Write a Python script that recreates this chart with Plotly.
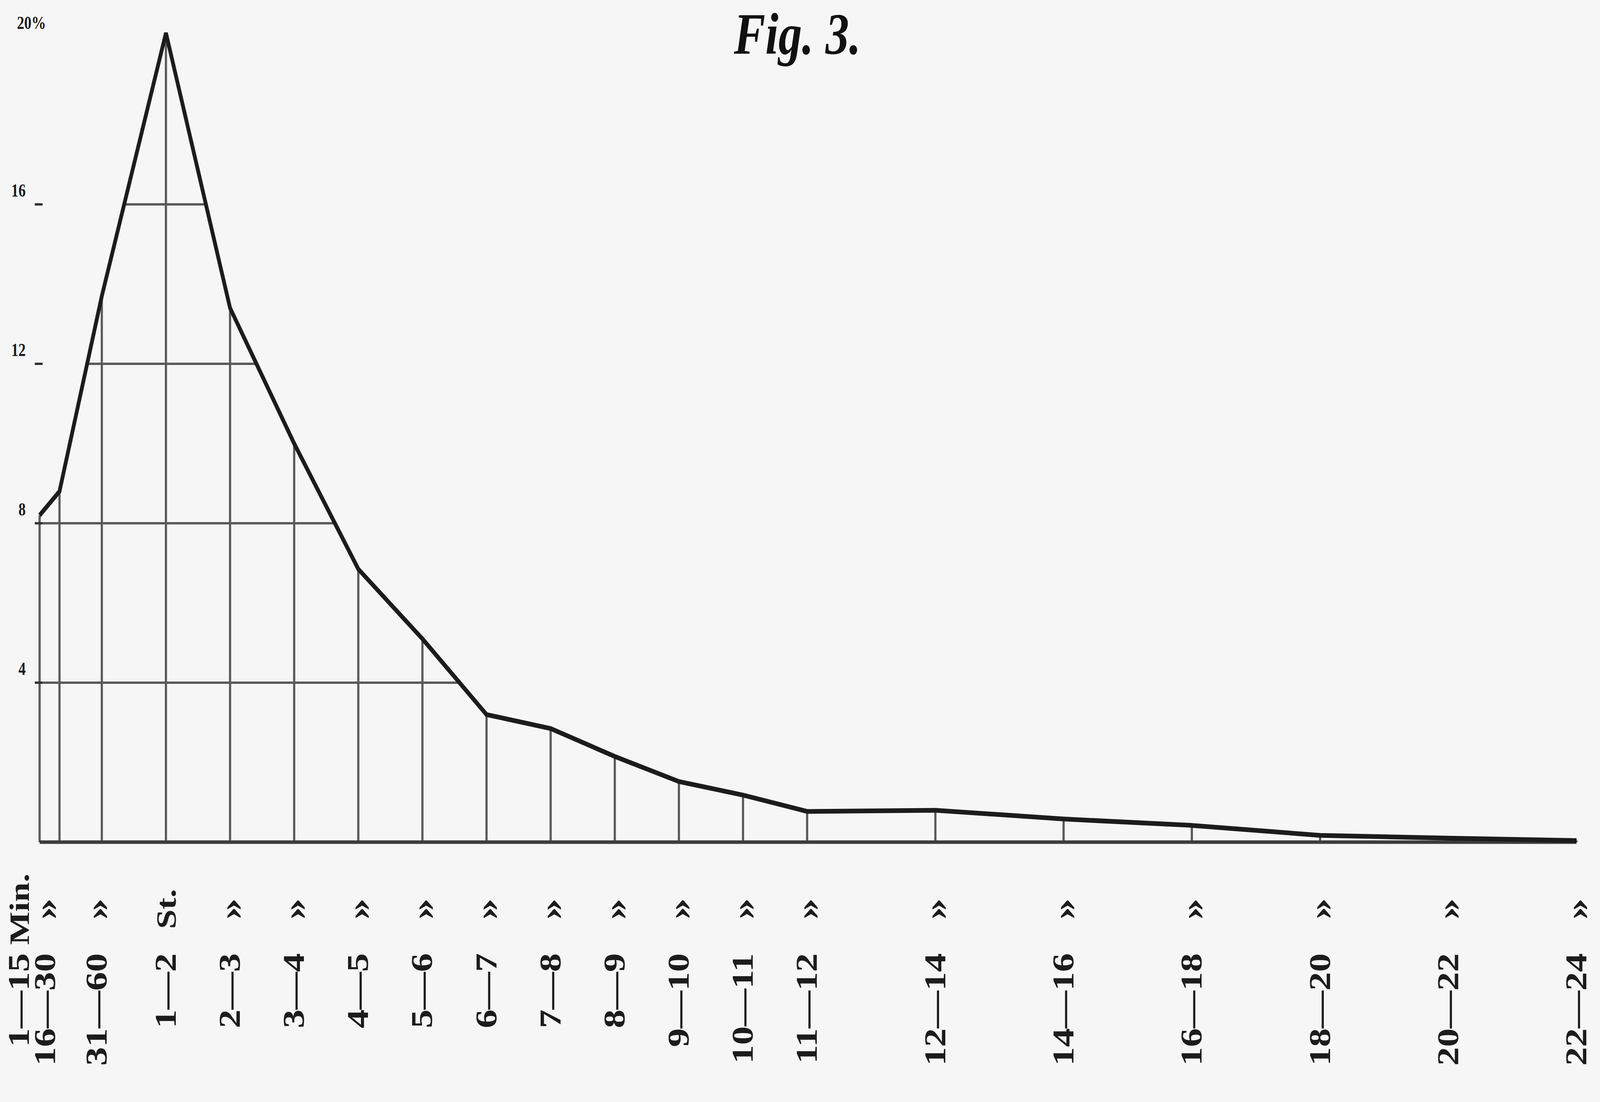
import plotly.graph_objects as go

# ---------------- data ----------------
# position of each class on the time axis (hours) and its share (%)
x_hours = [0.03, 0.34, 1, 2, 3, 4, 5, 6, 7, 8, 9, 10, 11, 12, 14, 16, 18, 20, 22, 24]
percent = [8.2, 8.8, 13.7, 20.3, 13.4, 10.0, 6.85, 5.1, 3.2, 2.85, 2.15, 1.52, 1.18,
           0.77, 0.80, 0.58, 0.42, 0.17, 0.10, 0.04]

# tick labels (number part and unit / ditto part)
label_hours = [-0.29, 0.12, 0.92, 2, 3, 4, 5, 6, 7, 8, 9, 10, 11, 12, 14, 16, 18, 20, 22, 24]
label_nums = ["1—15", "16—30", "31—60", "1—2", "2—3", "3—4", "4—5", "5—6", "6—7", "7—8",
              "8—9", "9—10", "10—11", "11—12", "12—14", "14—16", "16—18", "18—20",
              "20—22", "22—24"]
label_units = ["Min.", "»", "»", "St."] + ["»"] * 16

grid_levels = [4, 8, 12, 16]
y_tick_text = ["4", "8", "12", "16"]
top_label = "20%"
title_text = "<b><i>Fig. 3.</i></b>"

# ---------------- layout geometry (pixels) ----------------
W, H = 5093, 2820
X0_PX, PX_PER_H = 120.0, 204.1      # pixel of x=0 h, pixels per hour
Y0_PX, PX_PER_PCT = 2155.0, 102.0   # pixel of y=0 %, pixels per percent
ML, MR, MT, MB = 59, 24, 3, 640

x_lo = (ML - X0_PX) / PX_PER_H
x_hi = (W - MR - X0_PX) / PX_PER_H
y_lo = (Y0_PX - (H - MB)) / PX_PER_PCT
y_hi = (Y0_PX - MT) / PX_PER_PCT
plot_w = W - ML - MR
plot_h = H - MT - MB

def paper_x(px):
    return (px - ML) / plot_w

def paper_y(py):
    return (H - MB - py) / plot_h

SERIF = "Liberation Serif, DejaVu Serif, serif"
INK = "#1c1c1c"
GRID = "#5a5a5a"

fig = go.Figure()

# vertical lines under the curve
vx, vy = [], []
for xv, yv in zip(x_hours, percent):
    vx += [xv, xv, None]
    vy += [0, yv, None]
fig.add_trace(go.Scatter(x=vx, y=vy, mode="lines", line=dict(color=GRID, width=7),
                         hoverinfo="skip", showlegend=False, cliponaxis=False))

# horizontal lines under the curve
def level_span(xs, ys, lev):
    pts = []
    if ys[0] >= lev:
        pts.append(xs[0])
    for i in range(len(xs) - 1):
        y1, y2 = ys[i], ys[i + 1]
        if (y1 - lev) * (y2 - lev) < 0:
            t = (lev - y1) / (y2 - y1)
            pts.append(xs[i] + t * (xs[i + 1] - xs[i]))
    return min(pts), max(pts)

hx, hy = [], []
for lev in grid_levels:
    a, b = level_span(x_hours, percent, lev)
    hx += [a, b, None]
    hy += [lev, lev, None]
fig.add_trace(go.Scatter(x=hx, y=hy, mode="lines", line=dict(color=GRID, width=6),
                         hoverinfo="skip", showlegend=False, cliponaxis=False))

# base line
fig.add_trace(go.Scatter(x=[x_hours[0], x_hours[-1]], y=[0, 0], mode="lines",
                         line=dict(color="#3c3c3c", width=9),
                         hoverinfo="skip", showlegend=False, cliponaxis=False))

# the curve
fig.add_trace(go.Scatter(x=x_hours, y=percent, mode="lines",
                         line=dict(color=INK, width=12),
                         hoverinfo="skip", showlegend=False, cliponaxis=False))

# unit / ditto labels
annotations = []
for xv, u in zip(label_hours, label_units):
    annotations.append(dict(x=xv, xref="x", y=paper_y(2326), yref="paper",
                            text="<b>%s</b>" % u, textangle=-90, showarrow=False,
                            xanchor="center", yanchor="middle",
                            font=dict(family=SERIF, size=(110 if u == "»" else 90), color=INK)))
# 20 % label
annotations.append(dict(x=-0.1, xref="x", y=paper_y(58), yref="paper", text="<b>%s</b>" % top_label,
                        showarrow=False, xanchor="center", yanchor="middle",
                        font=dict(family=SERIF, size=46, color=INK)))
# title
annotations.append(dict(x=paper_x(2537), xref="paper", y=paper_y(172), yref="paper",
                        text=title_text, showarrow=False, xanchor="center", yanchor="bottom",
                        font=dict(family=SERIF, size=150, color="#111111")))

fig.update_layout(
    width=W, height=H, autosize=False,
    margin=dict(l=ML, r=MR, t=MT, b=MB, pad=0),
    paper_bgcolor="#f6f6f6", plot_bgcolor="#f6f6f6",
    showlegend=False,
    annotations=annotations,
    xaxis=dict(range=[x_lo, x_hi], showgrid=False, zeroline=False, showline=False,
               tickmode="array", tickvals=label_hours, ticktext=label_nums,
               tickangle=-90, ticks="", ticklabelstandoff=239,
               tickfont=dict(family=SERIF, size=96, color=INK, weight="bold")),
    yaxis=dict(range=[y_lo, y_hi], showgrid=False, zeroline=False, showline=False,
               anchor="free", position=paper_x(135),
               tickmode="array", tickvals=grid_levels, ticktext=y_tick_text,
               ticks="outside", ticklen=24, tickwidth=6, tickcolor="#333333",
               ticklabelshift=-36, ticklabelstandoff=20,
               tickfont=dict(family=SERIF, size=46, color=INK, weight="bold")),
)

# fit the fixed-size figure to whatever CSS viewport the browser window provides
fit_js = """
document.documentElement.style.margin='0';
document.documentElement.style.overflow='hidden';
document.body.style.margin='0';
document.body.style.overflow='hidden';
document.body.style.background='#f6f6f6';
var gd = document.getElementById('{plot_id}');
var sx = window.innerWidth / %d, sy = window.innerHeight / %d;
var wrap = gd.parentElement;
wrap.style.width = window.innerWidth + 'px';
wrap.style.height = window.innerHeight + 'px';
wrap.style.overflow = 'hidden';
gd.style.transformOrigin = '0 0';
gd.style.transform = 'scale(' + sx + ',' + sy + ')';
""" % (W, H)

fig.write_html("out.html", config={"displayModeBar": False}, post_script=fit_js)
